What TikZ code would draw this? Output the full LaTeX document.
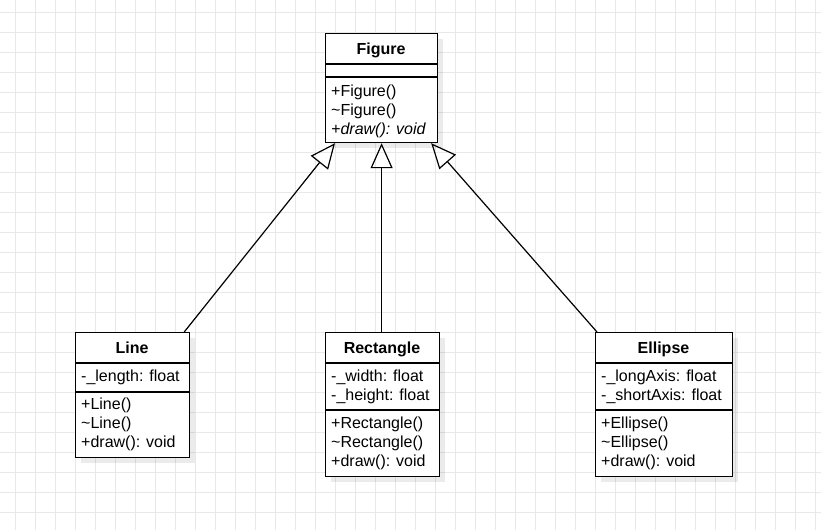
\documentclass[tikz,border=0pt]{standalone}
\usepackage{fontspec}
\setmainfont{Liberation Sans}
\usetikzlibrary{arrows.meta,positioning}
\tikzset{gridline/.style={gray!18, line width=1pt}}
\tikzset{cls/.style={draw, line width=1.2pt, fill=white, anchor=north west, inner sep=0pt}}
\tikzset{boxshadow/.style={fill=black, opacity=0.08, anchor=north west, inner sep=0pt}}
\tikzset{sep/.style={line width=1.2pt}}
\tikzset{title/.style={anchor=base, inner sep=0pt, font=\fontsize{16}{19}\selectfont\bfseries}}
\tikzset{member/.style={anchor=base west, inner sep=0pt, font=\fontsize{16}{19}\selectfont}}
\tikzset{inherit/.style={line width=1.2pt, -{Triangle[open, length=25pt, width=22pt]}}}

\begin{document}
\begin{tikzpicture}[x=1pt, y=-1pt]
\useasboundingbox (0,0) rectangle (821,530);
% grid
\foreach \x in {15,35,...,815} \draw[gridline] (\x,0) -- (\x,530);
\foreach \y in {12,32,...,512} \draw[gridline] (0,\y) -- (821,\y);

% Figure
\node[boxshadow, minimum width=112pt, minimum height=109pt] (figure-s) at (331,39) {};
\node[cls, minimum width=112pt, minimum height=109pt] (figure) at (325,33) {};
\draw[sep] (325,64) -- (437,64);
\draw[sep] (325,77) -- (437,77);
\node[title] (figure-t) at (381,54) {Figure};
\foreach \m [count=\i from 0] in {+Figure(), \textasciitilde Figure(), \textit{+draw(): void}}
  \node[member] (figure-m\i) at (331,96+19*\i) {\m};

% Line
\node[boxshadow, minimum width=114pt, minimum height=125pt] (line-s) at (81,338) {};
\node[cls, minimum width=114pt, minimum height=125pt] (line) at (75,332) {};
\draw[sep] (75,363) -- (189,363);
\draw[sep] (75,392) -- (189,392);
\node[title] (line-t) at (132,353) {Line};
\node[member] (line-a0) at (81,381) {-\_length: float};
\foreach \m [count=\i from 0] in {+Line(), \textasciitilde Line(), +draw(): void}
  \node[member] (line-m\i) at (81,409+19*\i) {\m};

% Rectangle
\node[boxshadow, minimum width=114pt, minimum height=144pt] (rectangle-s) at (331,338) {};
\node[cls, minimum width=114pt, minimum height=144pt] (rectangle) at (325,332) {};
\draw[sep] (325,363) -- (439,363);
\draw[sep] (325,410) -- (439,410);
\node[title] (rectangle-t) at (382,353) {Rectangle};
\foreach \m [count=\i from 0] in {-\_width: float, -\_height: float}
  \node[member] (rectangle-a\i) at (331,381+19*\i) {\m};
\foreach \m [count=\i from 0] in {+Rectangle(), \textasciitilde Rectangle(), +draw(): void}
  \node[member] (rectangle-m\i) at (331,428+19*\i) {\m};

% Ellipse
\node[boxshadow, minimum width=137pt, minimum height=144pt] (ellipse-s) at (601,338) {};
\node[cls, minimum width=137pt, minimum height=144pt] (ellipse) at (595,332) {};
\draw[sep] (595,363) -- (732,363);
\draw[sep] (595,410) -- (732,410);
\node[title] (ellipse-t) at (663.5,353) {Ellipse};
\foreach \m [count=\i from 0] in {-\_longAxis: float, -\_shortAxis: float}
  \node[member] (ellipse-a\i) at (601,381+19*\i) {\m};
\foreach \m [count=\i from 0] in {+Ellipse(), \textasciitilde Ellipse(), +draw(): void}
  \node[member] (ellipse-m\i) at (601,428+19*\i) {\m};

% inheritance
\coordinate (figure-l) at ([xshift=10pt]figure.south west);
\coordinate (figure-r) at ([xshift=-7pt]figure.south east);
\coordinate (line-up) at ([xshift=-6pt]line.north east);
\coordinate (ellipse-up) at ([xshift=2pt]ellipse.north west);
\draw[inherit] (line-up) -- (figure-l);
\draw[inherit] (figure.south |- rectangle.north) -- (figure.south);
\draw[inherit] (ellipse-up) -- (figure-r);
\end{tikzpicture}
\end{document}
